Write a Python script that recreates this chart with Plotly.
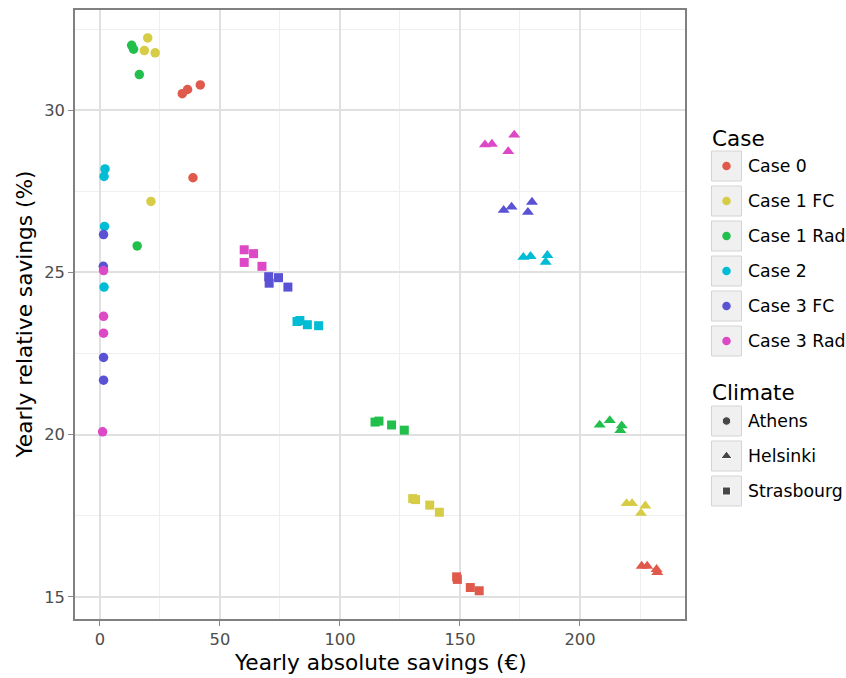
import plotly.graph_objects as go

W, H = 846, 678

cases = ["Case 0", "Case 1 FC", "Case 1 Rad", "Case 2", "Case 3 FC", "Case 3 Rad"]
case_colors = ["#e05a4c", "#d6cc45", "#22bf4c", "#00bcd4", "#5a52d4", "#dc48c6"]
climates = ["Athens", "Helsinki", "Strasbourg"]
climate_symbols = ["circle", "triangle-up", "square"]

# 4 runs per case, cases in the order above
athens_abs = [41.8, 36.5, 34.3, 38.75,
              19.9, 18.5, 23.0, 21.25,
              13.2, 14.0, 16.4, 15.5,
              2.1, 1.7, 1.9, 1.7,
              1.5, 1.4, 1.5, 1.5,
              1.5, 1.5, 1.5, 1.1]
athens_rel = [30.78, 30.64, 30.51, 27.92,
              32.23, 31.84, 31.77, 27.19,
              32.00, 31.88, 31.10, 25.82,
              28.19, 27.96, 26.42, 24.55,
              26.17, 25.19, 22.38, 21.68,
              25.06, 23.65, 23.13, 20.09]
helsinki_abs = [225.7, 228.0, 231.9, 232.2,
                219.4, 221.7, 227.2, 225.4,
                208.2, 212.4, 217.4, 216.8,
                176.4, 179.4, 186.4, 185.7,
                180.0, 171.5, 168.2, 178.3,
                172.6, 160.4, 163.3, 170.1]
helsinki_rel = [15.95, 15.95, 15.85, 15.76,
                17.88, 17.88, 17.81, 17.58,
                20.30, 20.44, 20.28, 20.13,
                25.47, 25.50, 25.53, 25.32,
                27.17, 27.02, 26.92, 26.86,
                29.24, 28.94, 28.96, 28.73]
strasbourg_abs = [148.6, 148.9, 154.3, 158.0,
                  130.3, 131.5, 137.4, 141.4,
                  114.6, 116.25, 121.5, 126.8,
                  82.1, 83.3, 86.4, 91.1,
                  70.3, 70.5, 74.4, 78.3,
                  60.1, 64.0, 60.1, 67.5]
strasbourg_rel = [15.62, 15.54, 15.29, 15.19,
                  18.03, 18.00, 17.83, 17.61,
                  20.39, 20.42, 20.30, 20.14,
                  23.49, 23.52, 23.39, 23.36,
                  24.87, 24.67, 24.84, 24.55,
                  25.70, 25.58, 25.31, 25.19]

x_ticks = [0, 50, 100, 150, 200]
y_ticks = [15, 20, 25, 30]

FONT = "DejaVu Sans"

# panel in pixels
PL, PR, PT, PB = 75, 685, 10, 619

def px(x):
    return x / W

def py(y):
    return 1 - y / H

fig = go.Figure()

climate_data = [(athens_abs, athens_rel), (helsinki_abs, helsinki_rel),
                (strasbourg_abs, strasbourg_rel)]
marker_sizes = {"circle": 9.5, "triangle-up": 10.5, "square": 9}

for ci, (clim, sym) in enumerate(zip(climates, climate_symbols)):
    xs, ys = climate_data[ci]
    for k, (case, col) in enumerate(zip(cases, case_colors)):
        fig.add_trace(go.Scatter(
            x=xs[4 * k:4 * k + 4], y=ys[4 * k:4 * k + 4],
            mode="markers", name=f"{case} - {clim}",
            marker=dict(symbol=sym, color=col, size=marker_sizes[sym], line=dict(width=0)),
            xaxis="x", yaxis="y", showlegend=False, hoverinfo="x+y+name"))

# ---- manual legend (ggplot style keys) ----
shapes = []
annotations = []
KX0, KX1 = 711.5, 741.5
case_centers = [166 + 35 * i for i in range(len(cases))]
clim_centers = [421 + 35 * i for i in range(len(climates))]

for yc in case_centers + clim_centers:
    shapes.append(dict(type="rect", xref="paper", yref="paper",
                       x0=px(KX0), x1=px(KX1), y0=py(yc + 15), y1=py(yc - 15),
                       fillcolor="#f0f0f0", line=dict(color="#d4d4d4", width=1),
                       layer="below"))

fig.add_trace(go.Scatter(
    x=[(KX0 + KX1) / 2] * len(cases), y=case_centers, mode="markers",
    marker=dict(symbol="circle", color=case_colors, size=8.5),
    xaxis="x2", yaxis="y2", showlegend=False, hoverinfo="skip"))
fig.add_trace(go.Scatter(
    x=[(KX0 + KX1) / 2] * len(climates), y=clim_centers, mode="markers",
    marker=dict(symbol=climate_symbols, color="black", size=[8.5, 10, 8]),
    xaxis="x2", yaxis="y2", showlegend=False, hoverinfo="skip"))

annotations.append(dict(text="Case", x=px(709.5), y=py(138), xref="paper", yref="paper",
                        xanchor="left", yanchor="middle", showarrow=False,
                        font=dict(family=FONT, size=21.5, color="black")))
annotations.append(dict(text="Climate", x=px(709.5), y=py(392), xref="paper", yref="paper",
                        xanchor="left", yanchor="middle", showarrow=False,
                        font=dict(family=FONT, size=21.5, color="black")))
for lab, yc in zip(cases, case_centers):
    annotations.append(dict(text=lab, x=px(746), y=py(yc), xref="paper", yref="paper",
                            xanchor="left", yanchor="middle", showarrow=False,
                            font=dict(family=FONT, size=17.3, color="black")))
for lab, yc in zip(climates, clim_centers):
    annotations.append(dict(text=lab, x=px(746), y=py(yc), xref="paper", yref="paper",
                            xanchor="left", yanchor="middle", showarrow=False,
                            font=dict(family=FONT, size=17.3, color="black")))

# axis titles
annotations.append(dict(text="Yearly absolute savings (€)", x=px((PL + PR) / 2), y=py(662),
                        xref="paper", yref="paper", xanchor="center", yanchor="middle",
                        showarrow=False, font=dict(family=FONT, size=21.7, color="black")))
annotations.append(dict(text="Yearly relative savings (%)", x=px(24), y=py((PT + PB) / 2),
                        xref="paper", yref="paper", xanchor="center", yanchor="middle",
                        textangle=-90, showarrow=False,
                        font=dict(family=FONT, size=21.7, color="black")))

axis_common = dict(
    showline=True, mirror=True, linecolor="#808080", linewidth=1.6,
    ticks="outside", ticklen=5, tickwidth=1.3, tickcolor="#8a8a8a",
    showgrid=True, gridcolor="#e0e0e0", gridwidth=1.5, zeroline=False,
    tickfont=dict(family=FONT, size=16.3, color="#4d4d4d"),
)

fig.update_layout(
    width=W, height=H, margin=dict(l=0, r=0, t=0, b=0),
    paper_bgcolor="white", plot_bgcolor="rgba(0,0,0,0)",
    font=dict(family=FONT),
    xaxis=dict(domain=[px(PL), px(PR)], range=[-10.4, 243.75], tickvals=x_ticks,
               anchor="y",
               minor=dict(tickvals=[25, 75, 125, 175, 225], showgrid=True,
                          gridcolor="#efefef", gridwidth=0.9, ticks=""),
               **axis_common),
    yaxis=dict(domain=[py(PB), py(PT)], range=[14.32, 33.09], tickvals=y_ticks,
               anchor="x",
               minor=dict(tickvals=[17.5, 22.5, 27.5, 32.5], showgrid=True,
                          gridcolor="#efefef", gridwidth=0.9, ticks=""),
               **axis_common),
    xaxis2=dict(domain=[0, 1], range=[0, W], visible=False, anchor="y2", fixedrange=True),
    yaxis2=dict(domain=[0, 1], range=[H, 0], visible=False, anchor="x2", fixedrange=True),
    shapes=shapes, annotations=annotations,
)

fig.write_html("out.html")
